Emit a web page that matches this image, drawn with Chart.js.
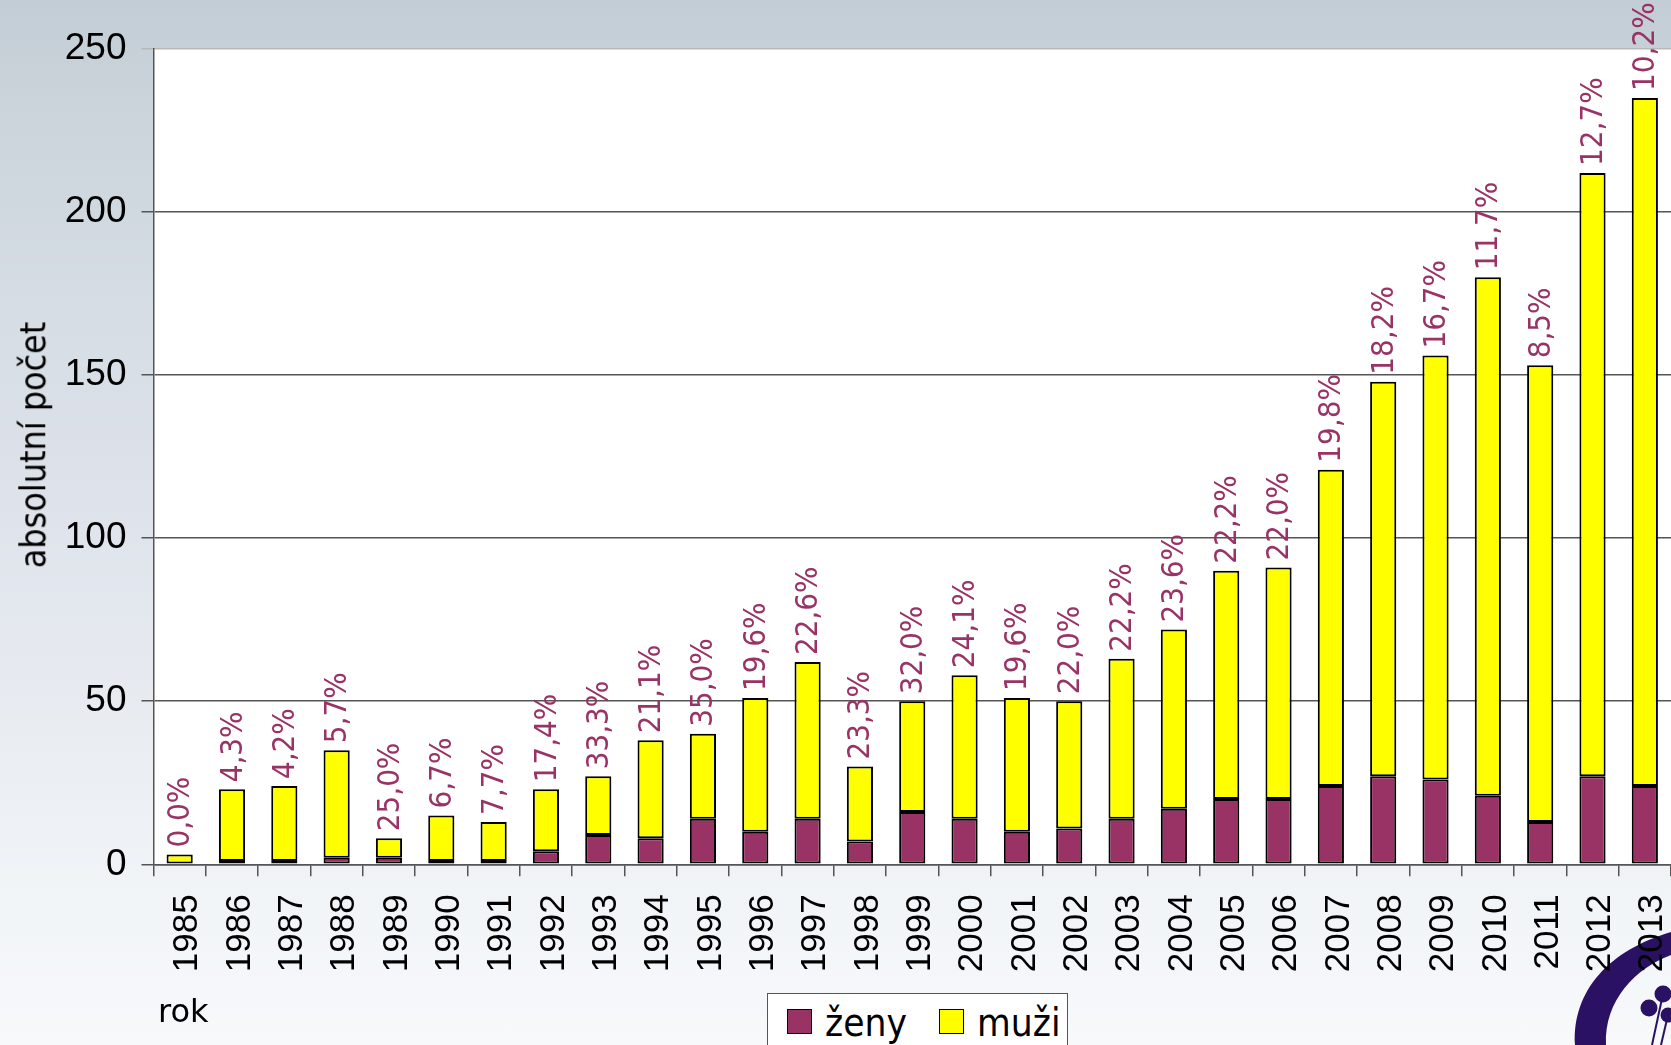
<!DOCTYPE html>
<html>
<head>
<meta charset="utf-8">
<script src="https://cdn.jsdelivr.net/npm/chart.js@4.4.0/dist/chart.umd.min.js"></script>
<style>
  html, body { margin:0; padding:0; }
  body {
    width:1671px; height:1045px; overflow:hidden; position:relative;
    background: linear-gradient(to bottom, #c3cdd5 0%, #ccd5dc 12%, #d6dde4 30%, #dfe3eb 50%, #e9edf2 70%, #f2f5f8 88%, #f7f9fb 100%);
    font-family: "DejaVu Sans", sans-serif;
  }
  #c { position:absolute; left:0; top:0; }
  #ytitle {
    position:absolute; left:33px; top:445px;
    transform: translate(-50%,-50%) rotate(-90deg);
    font: 35.5px "DejaVu Sans Condensed", "DejaVu Sans", sans-serif;
    line-height:1; white-space:nowrap; color:#000;
  }
  #xtitle {
    position:absolute; left:158px; top:995px;
    font: 32px "DejaVu Sans", sans-serif; line-height:1; color:#000;
  }
  #legend {
    position:absolute; left:767px; top:993px; width:301px; height:70px;
    background:#fff; border:1px solid #555; box-sizing:border-box;
    font: 38.5px "DejaVu Sans Condensed", "DejaVu Sans", sans-serif; color:#000;
  }
  .sw { position:absolute; top:15px; width:25px; height:25px; border:1.5px solid #000; box-sizing:border-box; }
  .lt { position:absolute; top:10px; line-height:1; white-space:nowrap; }
</style>
</head>
<body>
<canvas id="c" width="1671" height="1045"></canvas>
<div id="ytitle">absolutní počet</div>
<div id="xtitle">rok</div>
<div id="legend">
  <div class="sw" style="left:19px;background:#993366"></div><div class="lt" style="left:57px">ženy</div>
  <div class="sw" style="left:171px;background:#ffff00"></div><div class="lt" style="left:209px">muži</div>
</div>
<script>
const years = ['1985','1986','1987','1988','1989','1990','1991','1992','1993','1994','1995','1996','1997','1998','1999','2000','2001','2002','2003','2004','2005','2006','2007','2008','2009','2010','2011','2012','2013'];
const zeny = [0,1,1,2,2,1,1,4,9,8,14,10,14,7,16,14,10,11,14,17,20,20,24,27,26,21,13,27,24];
const muzi = [3,22,23,33,6,14,12,19,18,30,26,41,48,23,34,44,41,39,49,55,70,71,97,121,130,159,140,185,211];
const podilZen = ['0,0%','4,3%','4,2%','5,7%','25,0%','6,7%','7,7%','17,4%','33,3%','21,1%','35,0%','19,6%','22,6%','23,3%','32,0%','24,1%','19,6%','22,0%','22,2%','23,6%','22,2%','22,0%','19,8%','18,2%','16,7%','11,7%','8,5%','12,7%','10,2%'];
const yMin = 0, yMax = 250, yStep = 50;

const xTickFont = { family: "'Liberation Sans', Arial, sans-serif", size: 35 };
const yTickFont = { family: "'Liberation Sans', Arial, sans-serif", size: 37 };

const bgPlugin = {
  id: 'bg',
  beforeDraw(chart) {
    const { ctx, chartArea: a } = chart;
    ctx.save();
    // logo swoosh (decorative)
    ctx.fillStyle = '#2b1163';
    ctx.beginPath();
    ctx.moveTo(1575, 1045);
    ctx.bezierCurveTo(1572, 990, 1610, 950, 1671, 932);
    ctx.lineTo(1671, 955);
    ctx.bezierCurveTo(1636, 968, 1604, 1000, 1606, 1045);
    ctx.closePath();
    ctx.fill();
    [[1649,1008,8.5],[1663,994,8.5],[1668,1015,7.5]].forEach(c => {
      ctx.beginPath(); ctx.arc(c[0], c[1], c[2], 0, Math.PI*2); ctx.fill();
    });
    ctx.strokeStyle = '#2b1163'; ctx.lineWidth = 2;
    ctx.beginPath(); ctx.moveTo(1663,994); ctx.lineTo(1652,1045); ctx.stroke();
    ctx.beginPath(); ctx.moveTo(1668,1015); ctx.lineTo(1661,1045); ctx.stroke();
    // plot area
    ctx.fillStyle = '#ffffff';
    ctx.fillRect(a.left, a.top, a.right - a.left, a.bottom - a.top);
    ctx.restore();
  }
};

const labelPlugin = {
  id: 'pct',
  afterDatasetsDraw(chart) {
    const { ctx } = chart;
    const meta = chart.getDatasetMeta(1);
    ctx.save();
    ctx.fillStyle = '#993366';
    ctx.font = "31px 'DejaVu Sans Condensed', 'DejaVu Sans', sans-serif";
    ctx.textAlign = 'left';
    ctx.textBaseline = 'middle';
    meta.data.forEach((el, i) => {
      ctx.save();
      ctx.translate(el.x, el.y - 7);
      ctx.rotate(-Math.PI / 2);
      ctx.fillText(podilZen[i], 0, 1.5);
      ctx.restore();
    });
    ctx.restore();
  }
};

new Chart(document.getElementById('c'), {
  type: 'bar',
  data: {
    labels: years,
    datasets: [
      { label: 'ženy', data: zeny, backgroundColor: '#993366', borderColor: '#000', borderWidth: 2, borderSkipped: false, barPercentage: 0.5, categoryPercentage: 1.0 },
      { label: 'muži', data: muzi, backgroundColor: '#ffff00', borderColor: '#000', borderWidth: 2, borderSkipped: false, barPercentage: 0.5, categoryPercentage: 1.0 }
    ]
  },
  options: {
    responsive: false,
    animation: false,
    devicePixelRatio: 1,
    layout: { padding: { top: 49, right: -3, left: 0, bottom: 0 } },
    plugins: { legend: { display: false }, tooltip: { enabled: false } },
    scales: {
      x: {
        stacked: true,
        afterFit(s) { s.height = 180.7; s.paddingLeft = 0; s.paddingRight = 0; },
        grid: { offset: true, drawOnChartArea: false, drawTicks: true, tickLength: 12, color: '#555', lineWidth: 1.5 },
        border: { color: '#555', width: 1.5 },
        ticks: { minRotation: 90, maxRotation: 90, autoSkip: false, padding: 18, labelOffset: 8, color: '#000', font: xTickFont }
      },
      y: {
        stacked: true,
        min: yMin, max: yMax,
        afterFit(s) { s.width = 153.5; s.paddingTop = 0; s.paddingBottom = 0; },
        grid: {
          tickLength: 12, lineWidth: 1.5,
          color: c => (c.tick && c.tick.value === yMax) ? '#b8b8b8' : '#555'
        },
        border: { color: '#555', width: 1.5 },
        ticks: { stepSize: yStep, padding: 15, color: '#000', font: yTickFont }
      }
    }
  },
  plugins: [bgPlugin, labelPlugin]
});
</script>
</body>
</html>
